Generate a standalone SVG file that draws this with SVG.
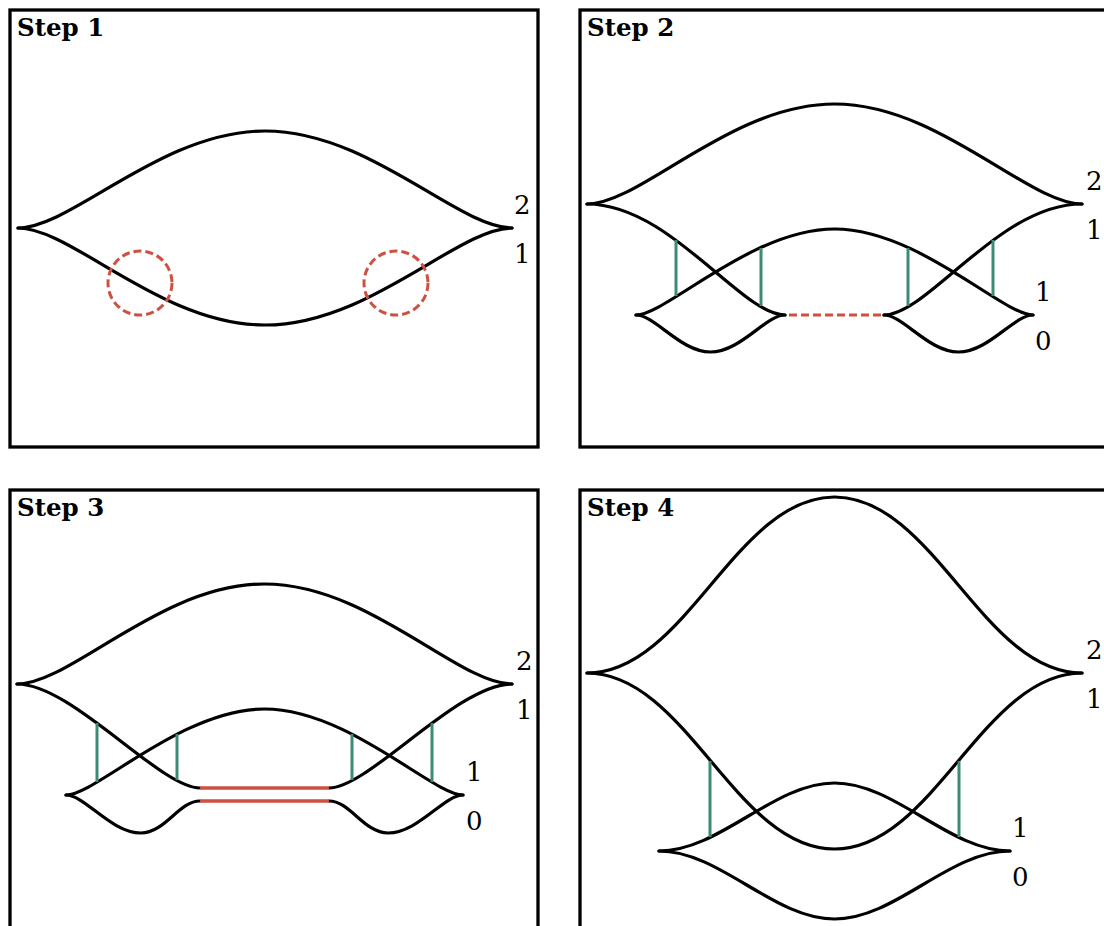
<svg xmlns="http://www.w3.org/2000/svg" width="1104" height="926" viewBox="0 0 1104 926">
<style>
.frame{fill:none;stroke:#000;stroke-width:3.3}
.c{fill:none;stroke:#000;stroke-width:3.2;stroke-linecap:round}
.teal{fill:none;stroke:#3b8b76;stroke-width:3}
.red{fill:none;stroke:#cd5040;stroke-width:3.5}
.dash{fill:none;stroke:#cd5040;stroke-width:3;stroke-dasharray:8 4}
.title{font-family:"DejaVu Serif",serif;font-weight:bold;font-size:24.5px;fill:#000}
.lbl{font-family:"DejaVu Serif",serif;font-size:26px;fill:#000}
</style>
<rect width="1104" height="926" fill="#fff"/>

<g id="step1">
<rect class="frame" x="10" y="10" width="528" height="437"/>
<text class="title" x="17" y="36">Step 1</text>
<path class="c" d="M18,228 C72,228 161,131 265,131 S458,228 512,228"/>
<path class="c" d="M18,228 C72,228 161,325 265,325 S458,228 512,228"/>
<circle class="dash" cx="140" cy="283" r="32"/>
<circle class="dash" cx="396" cy="283" r="32"/>
<text class="lbl" x="514" y="214">2</text>
<text class="lbl" x="514" y="263">1</text>
</g>

<g id="step2">
<rect class="frame" x="580" y="10" width="540" height="437"/>
<text class="title" x="587" y="36">Step 2</text>
<path class="c" d="M587,204 C641,204 730.5,104 834.5,104 S1028,204 1082,204"/>
<path class="c" d="M587,204 C670,204 741,315 785,315"/>
<path class="c" d="M1082,204 C999,204 928,315 884,315"/>
<path class="c" d="M636,315 C666,315 751.5,229 834.5,229 S1003,315 1033,315"/>
<path class="c" d="M636,315 C655,315 680.5,352 710.5,352 S766,315 785,315"/>
<path class="c" d="M884,315 C903,315 928.5,352 958.5,352 S1014,315 1033,315"/>
<path class="dash" d="M789,315 H881"/>
<g class="conn">
<line class="teal" x1="676" y1="240" x2="676" y2="296"/>
<line class="teal" x1="761" y1="248" x2="761" y2="306"/>
<line class="teal" x1="908" y1="248" x2="908" y2="306"/>
<line class="teal" x1="993" y1="240" x2="993" y2="296"/>
</g>
<text class="lbl" x="1086" y="190">2</text>
<text class="lbl" x="1086" y="239">1</text>
<text class="lbl" x="1035" y="301">1</text>
<text class="lbl" x="1035" y="350">0</text>
</g>

<g id="step3">
<rect class="frame" x="10" y="490" width="528" height="460"/>
<text class="title" x="17" y="516">Step 3</text>
<path class="c" d="M17,684 C71,684 160.5,584 264.5,584 S458,684 512,684"/>
<path class="c" d="M17,684 C72,684 160,788 200,788"/>
<path class="c" d="M512,684 C457,684 369,788 329,788"/>
<path class="c" d="M66,795 C96,795 181.5,709 264.5,709 S433,795 463,795"/>
<path class="c" d="M66,795 C85,795 111,833 141,833 C165,833 179,801 200,801"/>
<path class="c" d="M463,795 C444,795 418,833 388,833 C364,833 350,801 329,801"/>
<path class="red" d="M200,788 H329"/>
<path class="red" d="M200,801 H329"/>
<g class="conn">
<line class="teal" x1="97" y1="723" x2="97" y2="782"/>
<line class="teal" x1="177" y1="734" x2="177" y2="780"/>
<line class="teal" x1="352" y1="734" x2="352" y2="780"/>
<line class="teal" x1="432" y1="723" x2="432" y2="782"/>
</g>
<text class="lbl" x="516" y="670">2</text>
<text class="lbl" x="516" y="719">1</text>
<text class="lbl" x="466" y="781">1</text>
<text class="lbl" x="466" y="830">0</text>
</g>

<g id="step4">
<rect class="frame" x="580" y="490" width="540" height="460"/>
<text class="title" x="587" y="516">Step 4</text>
<path class="c" d="M587,673 C686,673 735.5,497 834.5,497 S983,673 1082,673"/>
<path class="c" d="M587,673 C686,673 735.5,849 834.5,849 S983,673 1082,673"/>
<path class="c" d="M659,851 C720,851 773.5,783 834.5,783 S949,851 1010,851"/>
<path class="c" d="M659,851 C720,851 773.5,919 834.5,919 S949,851 1010,851"/>
<g class="conn">
<line class="teal" x1="710" y1="761" x2="710" y2="837"/>
<line class="teal" x1="959" y1="761" x2="959" y2="837"/>
</g>
<text class="lbl" x="1086" y="659">2</text>
<text class="lbl" x="1086" y="708">1</text>
<text class="lbl" x="1012" y="837">1</text>
<text class="lbl" x="1012" y="886">0</text>
</g>
</svg>
